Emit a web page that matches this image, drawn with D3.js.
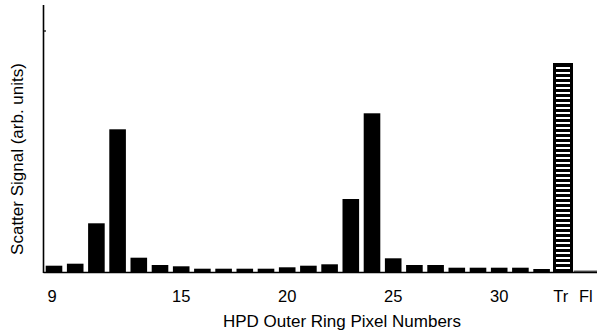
<!DOCTYPE html>
<html><head><meta charset="utf-8">
<script src="https://cdn.jsdelivr.net/npm/d3@7"></script>
<style>html,body{margin:0;padding:0;background:#fff;overflow:hidden}</style>
</head><body>
<svg id="c" width="597" height="330"></svg>
<script>
const categories = ["9","10","11","12","13","14","15","16","17","18","19","20","21","22","23","24","25","26","27","28","29","30","31","32","Tr","Fl"];
const values = [6.3,8.3,48.7,142.7,14.3,7,5.7,3.3,3.3,3.3,3.3,4.7,6.3,7.7,73,158.7,13.7,7,7,4.3,4.3,4.3,4.3,3,208.7,0.6];
const tickLabels = ["9","15","20","25","30","Tr","Fl"];
const hatched = ["Tr"];

(function(){
const svg = d3.select("#c");
const x0 = 43.5, base = 272, yTop = 5;
const step = 21.2, pin = 0.217, start = 45.7;
const x = d3.scaleBand().domain(categories).range([start, start + step*(categories.length - pin)]).paddingInner(pin).paddingOuter(0);
const y = d3.scaleLinear().domain([0, 267]).range([base, yTop]);
const font = "'Liberation Sans', Arial, Helvetica, sans-serif";

const data = categories.map((c,i)=>({c, v: values[i]}));
svg.selectAll("rect.bar").data(data.filter(d=>!hatched.includes(d.c) && d.c!=="Fl")).enter()
  .append("rect").attr("class","bar")
  .attr("x", d=>x(d.c)).attr("width", x.bandwidth())
  .attr("y", d=>y(d.v)).attr("height", d=>base - y(d.v))
  .attr("fill","#000");

// hatched bar: black frame with horizontal white stripes
data.filter(d=>hatched.includes(d.c)).forEach(d=>{
  const hw = Math.round(x.bandwidth() + 3.5);
  const left = Math.round(x(d.c) + x.bandwidth()/2 - hw/2);
  const topY = Math.round(y(d.v));
  svg.append("rect").attr("x", left).attr("width", hw).attr("y", topY).attr("height", base-topY).attr("fill","#000");
  const g = svg.append("g").attr("shape-rendering","crispEdges");
  const stripes = d3.range(topY + 4, base - 3, 5);
  g.selectAll("rect").data(stripes).enter().append("rect")
    .attr("x", left+3).attr("width", hw-6).attr("y", s=>s).attr("height", 2).attr("fill","#fff");
});

data.filter(d=>d.c==="Fl").forEach(d=>{
  svg.append("rect").attr("x", x(d.c)-2).attr("width", x.bandwidth()+10).attr("y", y(d.v)-0.8).attr("height", 1.2).attr("fill","#333");
});

svg.append("line").attr("x1",x0).attr("x2",597).attr("y1",base+0.5).attr("y2",base+0.5).attr("stroke","#000").attr("stroke-width",1.5);
svg.append("line").attr("x1",x0).attr("x2",x0).attr("y1",yTop).attr("y2",base+1).attr("stroke","#000").attr("stroke-width",1.6);
svg.append("line").attr("x1",x0).attr("x2",x0+2.5).attr("y1",31).attr("y2",31).attr("stroke","#000").attr("stroke-width",1.2);

const xAxis = d3.axisBottom(x).tickValues(tickLabels).tickSize(0).tickPadding(0);
const gx = svg.append("g").attr("transform",`translate(0,${base+18})`).call(xAxis);
gx.select(".domain").remove();
gx.selectAll("text").attr("font-family",font).attr("font-size",16.5).attr("fill","#000").attr("dy","0.71em");
gx.selectAll(".tick").filter(d=>d==="9").select("text").attr("dx",-2);
gx.selectAll(".tick").filter(d=>d==="Fl").select("text").attr("text-anchor","start").attr("dx",-5);
gx.selectAll(".tick").filter(d=>d==="Tr").select("text").attr("dx",-2);

svg.append("text").attr("x", 342).attr("y", 327).attr("text-anchor","middle")
  .attr("font-family",font).attr("font-size",17).attr("fill","#000")
  .text("HPD Outer Ring Pixel Numbers");
svg.append("text").attr("transform","translate(23,159) rotate(-90)").attr("text-anchor","middle")
  .attr("font-family",font).attr("font-size",17).attr("fill","#000")
  .text("Scatter Signal (arb. units)");
})();
</script>
</body></html>
